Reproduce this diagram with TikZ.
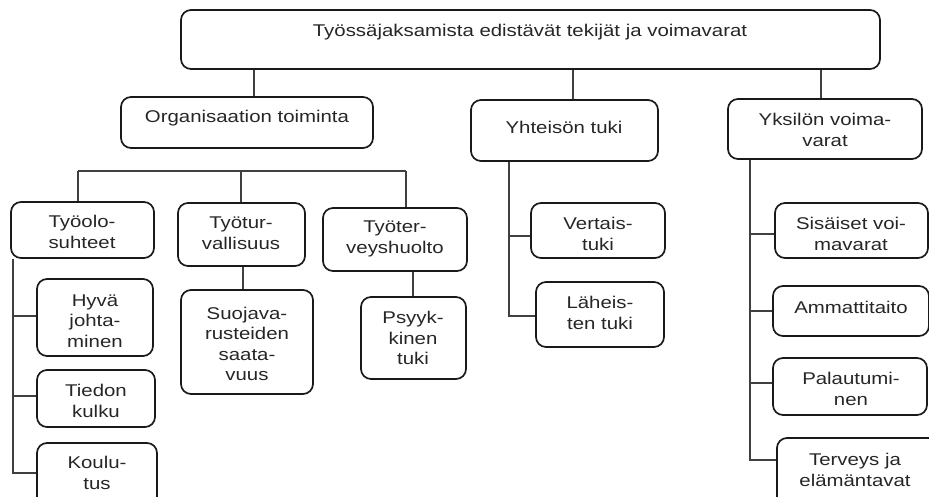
\documentclass[tikz,border=0pt]{standalone}
\usepackage{fontspec}
\setmainfont{Liberation Sans}[FakeStretch=1.2]
\usetikzlibrary{fit}
\begin{document}
\begin{tikzpicture}[x=1pt,y=-1pt,
  box/.style={draw=black!90, line width=1.7pt, rounded corners=10pt, inner sep=0pt},
  txt/.style={align=center, inner sep=0pt, font=\fontsize{17}{20.5}\selectfont, text=black!85},
  conn/.style={draw=black!75, line width=1.1pt}]
\useasboundingbox (0,0) rectangle (929,497);
\clip (0,0) rectangle (929,497);
% top level
\node[box, fit={(181,10) (880,69)}] (top) {};
\node[txt] (topt) at (530,32) {Työssäjaksamista edistävät tekijät ja voimavarat};
\node[box, fit={(121,97) (373,148)}] (org) {};
\node[txt] (orgt) at (247,118) {Organisaation toiminta};
\node[box, fit={(471,100) (658,161)}] (yht) {};
\node[txt] (yhtt) at (564,127) {Yhteisön tuki};
\node[box, fit={(728,99) (922,159)}] (yks) {};
\node[txt] (ykst) at (825,130) {Yksilön voima-\\varat};
% organisation children
\node[box, fit={(11,202) (154,258)}] (tyool) {};
\node[txt] (tyoolt) at (82,232) {Työolo-\\suhteet};
\node[box, fit={(178,203) (305,266)}] (tyotur) {};
\node[txt] (tyoturt) at (241,233) {Työtur-\\vallisuus};
\node[box, fit={(323,208) (467,271)}] (tyoter) {};
\node[txt] (tyotert) at (395,239) {Työter-\\veyshuolto};
\node[box, fit={(37,279) (153,356)}] (hyva) {};
\node[txt] (hyvat) at (95,321) {Hyvä\\johta-\\minen};
\node[box, fit={(37,370) (155,427)}] (tiedon) {};
\node[txt] (tiedont) at (96,401) {Tiedon\\kulku};
\node[box, fit={(37,443) (157,512)}] (koulu) {};
\node[txt] (koulut) at (97,473) {Koulu-\\tus};
\node[box, fit={(181,290) (313,394)}] (suoja) {};
\node[txt] (suojat) at (247,344) {Suojava-\\rusteiden\\saata-\\vuus};
\node[box, fit={(361,297) (466,379)}] (psyyk) {};
\node[txt] (psyykt) at (413,338) {Psyyk-\\kinen\\tuki};
% community children
\node[box, fit={(531,203) (665,258)}] (vert) {};
\node[txt] (vertt) at (598,234) {Vertais-\\tuki};
\node[box, fit={(536,282) (664,347)}] (lah) {};
\node[txt] (laht) at (600,313) {Läheis-\\ten tuki};
% individual children
\node[box, fit={(775,203) (928,258)}] (sis) {};
\node[txt] (sist) at (851,234) {Sisäiset voi-\\mavarat};
\node[box, fit={(773,286) (929,336)}] (amm) {};
\node[txt] (ammt) at (851,307) {Ammattitaito};
\node[box, fit={(773,358) (927,415)}] (pal) {};
\node[txt] (palt) at (851,389) {Palautumi-\\nen};
\node[box, fit={(777,438) (940,512)}] (ter) {};
\node[txt] (tert) at (855,470) {Terveys ja\\elämäntavat};
% connectors from top
\draw[conn] (254,0 |- top.south) -- (254,0 |- org.north);
\draw[conn] (573,0 |- top.south) -- (573,0 |- yht.north);
\draw[conn] (821,0 |- top.south) -- (821,0 |- yks.north);
% organisation bar
\coordinate (barL) at (78,171);
\coordinate (barR) at (406,171);
\draw[conn] (barL) -- (barR);
\draw[conn] (barL) -- (barL |- tyool.north);
\draw[conn] (241,171) -- (241,0 |- tyotur.north);
\draw[conn] (barR) -- (barR |- tyoter.north);
% Työolosuhteet spine
\coordinate (sp1) at (13,474);
\draw[conn] (13,0 |- tyool.south) -- (sp1);
\draw[conn] (13,316) -- (13,316 -| hyva.west);
\draw[conn] (13,396) -- (13,396 -| tiedon.west);
\draw[conn] (13,473) -- (13,473 -| koulu.west);
\draw[conn] (243,0 |- tyotur.south) -- (243,0 |- suoja.north);
\draw[conn] (413,0 |- tyoter.south) -- (413,0 |- psyyk.north);
% community spine
\draw[conn] (509,0 |- yht.south) -- (509,316) -- (509,316 -| lah.west);
\draw[conn] (509,236) -- (509,236 -| vert.west);
% individual spine
\draw[conn] (750,0 |- yks.south) -- (750,461);
\draw[conn] (750,234) -- (750,234 -| sis.west);
\draw[conn] (750,311) -- (750,311 -| amm.west);
\draw[conn] (750,383) -- (750,383 -| pal.west);
\draw[conn] (750,460) -- (750,460 -| ter.west);
\end{tikzpicture}
\end{document}
